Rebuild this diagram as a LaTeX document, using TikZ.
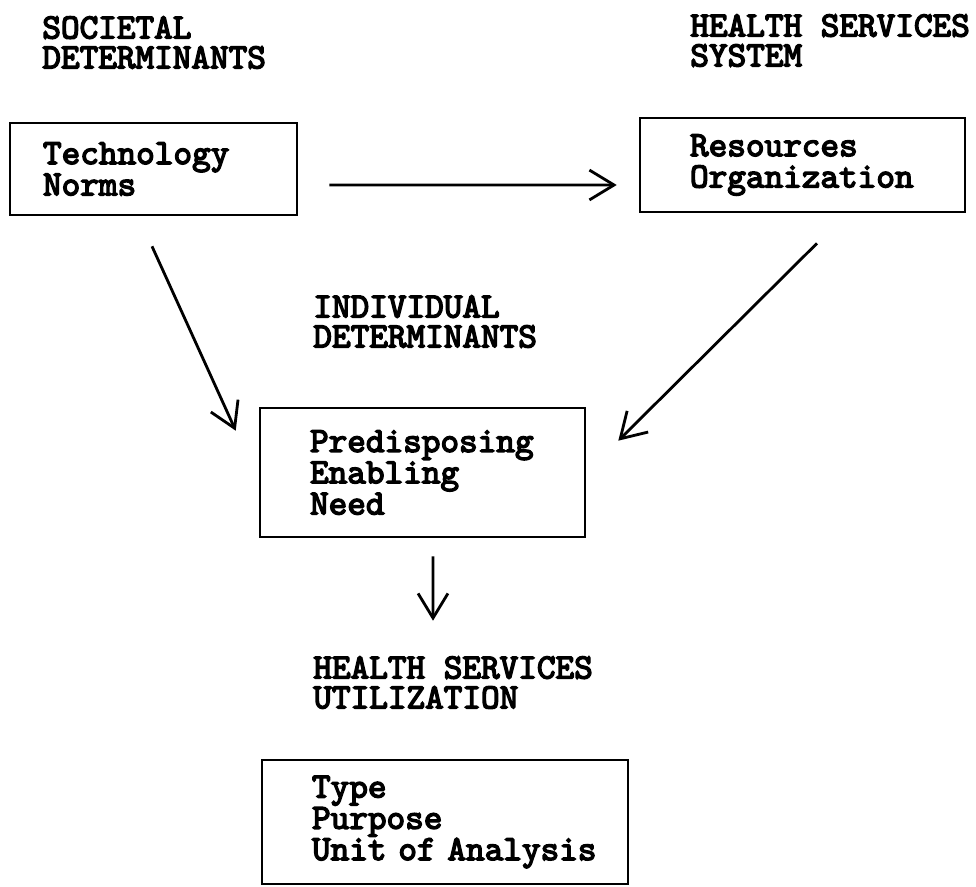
\documentclass[tikz,border=0pt]{standalone}
\usepackage{fontspec}
\newfontfamily\typew[FakeBold=4]{lmmono10-regular.otf}
\usepackage{tikz}
\usetikzlibrary{arrows.meta,positioning}

\begin{document}
\begin{tikzpicture}[
    x=0.02cm, y=-0.02cm,
    box/.style={draw, line width=1.5pt, align=left, inner ysep=0pt, font=\typew\fontsize{20.2}{17.8}\selectfont},
    head/.style={anchor=north west, align=left, inner sep=0pt, font=\typew\fontsize{20.2}{17}\selectfont},
    arr/.style={-{Straight Barb[length=14pt,width=17pt]}, line width=1.6pt}
]
\useasboundingbox (0,0) rectangle (976,886);

\node[head] (SocH) at (42,16) {SOCIETAL\\DETERMINANTS};
\node[head] (SysH) at (690,14) {HEALTH SERVICES\\SYSTEM};
\node[head] (IndH) at (313,295) {INDIVIDUAL\\DETERMINANTS};
\node[head] (UtilH) at (313,656) {HEALTH SERVICES\\UTILIZATION};

\node[box, minimum width=5.74cm, minimum height=1.84cm, text width=4.42cm, inner xsep=0.66cm] (Tech) at (153.5,169) {Technology\\Norms};
\node[box, minimum width=6.5cm, minimum height=1.88cm, text width=4.5cm, inner xsep=1cm] (Res) at (802.5,165) {Resources\\Organization};
\node[box, minimum width=6.5cm, minimum height=2.58cm, text width=4.5cm, inner xsep=1cm] (Ind) at (422.5,472.5) {Predisposing\\Enabling\\Need};
\node[box, minimum width=7.32cm, minimum height=2.48cm, text width=5.32cm, inner xsep=1cm] (Util) at (445,822) {Type\\Purpose\\\mbox{Unit of Analysis}};

\draw[arr] ([xshift=0.62cm,yshift=-0.32cm]Tech.east) -- ([xshift=-0.44cm,yshift=-0.4cm]Res.west);
\draw[arr] ([xshift=-0.03cm,yshift=-0.6cm]Tech.south) -- ([xshift=-0.46cm,yshift=-0.48cm]Ind.north west);
\draw[arr] ([xshift=0.29cm,yshift=-0.6cm]Res.south) -- ([xshift=0.64cm,yshift=-0.68cm]Ind.north east);
\draw[arr] ([xshift=0.21cm,yshift=-0.36cm]Ind.south) -- ([xshift=-0.24cm,yshift=2.76cm]Util.north);
\end{tikzpicture}
\end{document}
